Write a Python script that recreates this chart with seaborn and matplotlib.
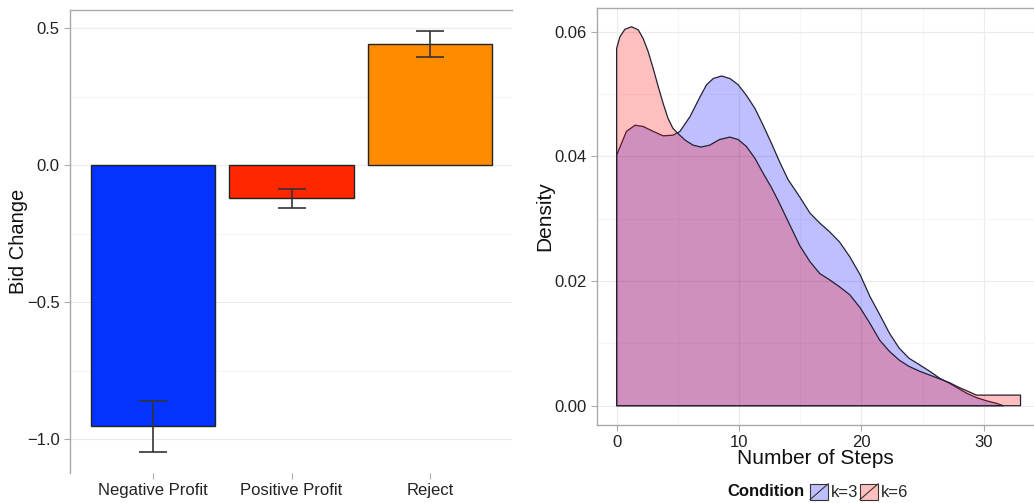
import numpy as np
import seaborn as sns
import matplotlib.pyplot as plt
from matplotlib.patches import Patch, Rectangle
from matplotlib.lines import Line2D
from matplotlib.legend_handler import HandlerPatch
from matplotlib.ticker import MultipleLocator

# left panel: bid change by outcome
outcomes = ["Negative Profit", "Positive Profit", "Reject"]
bid_change = [-0.953, -0.120, 0.443]
err_low = [-1.047, -0.157, 0.394]
err_high = [-0.860, -0.088, 0.488]
bar_colors = ["#0433FF", "#FF2600", "#FF8C00"]

# right panel: density of number of steps
steps_k3 = [0, 0.4, 0.8, 1.5, 2.17, 3.0, 3.8, 4.6, 5.17, 6.0, 6.8, 7.35, 7.9, 8.57,
            9.25, 9.93, 10.6, 11.3, 11.97, 12.65, 13.3, 14.0, 14.96, 15.8, 16.6, 17.4,
            18.2, 19.05, 19.9, 20.7, 21.5, 22.3, 23.1, 23.9, 24.8, 25.6, 26.4, 27.2,
            27.9, 28.6, 29.4, 30.2, 31.0, 31.6]
density_k3 = [0.0402, 0.0421, 0.0440, 0.0450, 0.0448, 0.0440, 0.0433, 0.0434, 0.0440,
              0.0464, 0.0495, 0.0515, 0.0525, 0.0529, 0.0525, 0.0515, 0.0498, 0.0477,
              0.0450, 0.0421, 0.0392, 0.0363, 0.0335, 0.0309, 0.0293, 0.0279, 0.0263,
              0.0239, 0.0210, 0.0175, 0.0146, 0.0116, 0.0092, 0.0076, 0.0065, 0.0055,
              0.0044, 0.0036, 0.0028, 0.0020, 0.0013, 0.0008, 0.0004, 0.0]
steps_k6 = [0, 0.27, 0.68, 1.22, 1.77, 2.17, 2.58, 2.99, 3.4, 3.8, 4.2, 4.6, 5.0, 5.6,
            6.25, 6.9, 7.6, 8.4, 9.25, 9.93, 10.6, 11.3, 11.97, 12.65, 13.3, 14.15,
            14.96, 15.8, 16.6, 17.4, 18.2, 19.05, 19.9, 20.7, 21.5, 22.3, 23.1, 23.9,
            24.8, 25.6, 26.4, 27.2, 27.9, 28.6, 29.4, 33.0]
density_k6 = [0.0573, 0.0592, 0.0604, 0.0608, 0.0603, 0.0589, 0.0568, 0.0541, 0.0512,
              0.0485, 0.0461, 0.0445, 0.0437, 0.0426, 0.0418, 0.0415, 0.0418, 0.0427,
              0.0431, 0.0427, 0.0416, 0.0397, 0.0373, 0.0350, 0.0325, 0.0290, 0.0257,
              0.0231, 0.0212, 0.0202, 0.0191, 0.0178, 0.0157, 0.0132, 0.0105, 0.0087,
              0.0073, 0.0063, 0.0055, 0.0049, 0.0043, 0.0037, 0.0030, 0.0024, 0.0017,
              0.0017]
conditions = ["k=3", "k=6"]
cond_colors = ["blue", "red"]
key_colors = [(0.75, 0.75, 1.0), (1.0, 0.75, 0.75)]


class HandlerSlash(HandlerPatch):
    # ggplot style density key: filled box with a diagonal line
    def create_artists(self, legend, orig_handle, xdescent, ydescent, width, height, fontsize, trans):
        box = Rectangle((-xdescent, -ydescent), width, height, facecolor=orig_handle.get_facecolor(),
                        edgecolor="#333333", linewidth=0.8, transform=trans)
        slash = Line2D([-xdescent, -xdescent + width], [-ydescent, -ydescent + height],
                       color="#333333", linewidth=0.8, transform=trans)
        return [box, slash]


sns.set_style("white")
plt.rcParams["font.family"] = ["Liberation Sans", "DejaVu Sans"]
grid_major = "#EBEBEB"
grid_minor = "#F6F6F6"
spine_col = "#AAAAAA"

fig = plt.figure(figsize=(10.34, 5.03), dpi=100)
ax1 = fig.add_axes([0.0677, 0.0596, 0.4273, 0.9205])
ax2 = fig.add_axes([0.5774, 0.155, 0.4226, 0.829])

# ---- bars ----
ax1.set_axisbelow(True)
ax1.yaxis.set_major_locator(MultipleLocator(0.5))
ax1.yaxis.set_minor_locator(MultipleLocator(0.25))
ax1.grid(True, which="major", color=grid_major, linewidth=0.8)
ax1.grid(True, which="minor", axis="y", color=grid_minor, linewidth=0.8)
sns.barplot(x=outcomes, y=bid_change, hue=outcomes, palette=bar_colors, width=0.9,
            saturation=1, edgecolor="#222222", linewidth=1.0, errorbar=None,
            legend=False, ax=ax1)
pos = np.arange(len(outcomes))
yerr = [np.array(bid_change) - np.array(err_low), np.array(err_high) - np.array(bid_change)]
ax1.errorbar(pos, bid_change, yerr=yerr, fmt="none", ecolor="#333333", elinewidth=1.2,
             capsize=10, capthick=1.2)
ax1.set_xlim(-0.6, 2.59)
ax1.set_ylim(-1.124, 0.566)
ax1.set_yticks([-1.0, -0.5, 0.0, 0.5])
ax1.set_yticklabels(["\u22121.0", "\u22120.5", "0.0", "0.5"])
ax1.set_xlabel("")
ax1.set_ylabel("Bid Change", fontsize=14.5, color="#111111", labelpad=-1)

# ---- densities ----
ax2.set_axisbelow(True)
ax2.xaxis.set_major_locator(MultipleLocator(10))
ax2.xaxis.set_minor_locator(MultipleLocator(5))
ax2.yaxis.set_major_locator(MultipleLocator(0.02))
ax2.yaxis.set_minor_locator(MultipleLocator(0.01))
ax2.grid(True, which="major", color=grid_major, linewidth=0.8)
ax2.grid(True, which="minor", color=grid_minor, linewidth=0.8)
curves = [(steps_k3, density_k3), (steps_k6, density_k6)]
for (xs, ds), col in zip(curves, cond_colors):
    ax2.fill_between(xs, 0, ds, facecolor=col, alpha=0.25, edgecolor="none")
    ax2.fill_between(xs, 0, ds, facecolor="none", edgecolor="#222233", linewidth=0.9)
ax2.set_xlim(-1.6, 34.1)
ax2.set_ylim(-0.0031, 0.0638)
ax2.set_yticks([0.0, 0.02, 0.04, 0.06])
ax2.set_yticklabels(["0.00", "0.02", "0.04", "0.06"])
ax2.set_xlabel("Number of Steps", fontsize=15, color="#111111", labelpad=-1)
ax2.set_ylabel("Density", fontsize=15, color="#111111", labelpad=0)

for ax in (ax1, ax2):
    ax.tick_params(axis="both", which="major", labelsize=12, labelcolor="#222222",
                   length=4, width=0.8, color=spine_col, direction="out", left=True, bottom=True)
    ax.tick_params(which="minor", length=0)
    for side in ax.spines:
        ax.spines[side].set_color(spine_col)
        ax.spines[side].set_linewidth(1.0)
ax1.spines["right"].set_visible(False)
ax1.spines["bottom"].set_visible(False)
ax2.spines["right"].set_visible(False)

handles = [Patch(facecolor=c) for c in key_colors]
fig.text(805 / 1034, 1 - 492 / 503, "Condition", fontsize=12, fontweight="bold",
         ha="right", va="center", color="#111111")
fig.legend(handles, conditions, loc="center left", bbox_to_anchor=(810 / 1034, 1 - 492 / 503),
           ncol=2, frameon=False, fontsize=12, handlelength=1.1, handleheight=1.1,
           handletextpad=0.15, columnspacing=0.1, borderpad=0, borderaxespad=0,
           handler_map={Patch: HandlerSlash()})

fig.savefig("out.png", dpi=100)
